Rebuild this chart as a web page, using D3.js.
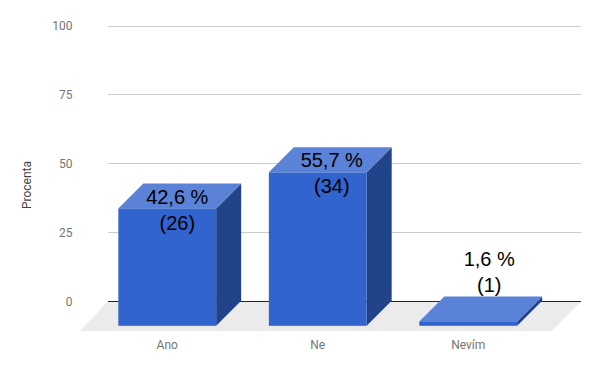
<!DOCTYPE html>
<html><head><meta charset="utf-8">
<script src="https://cdn.jsdelivr.net/npm/d3@7"></script>
<style>html,body{margin:0;padding:0;background:#fff}svg{display:block}</style>
</head><body><div id="c"></div>
<script>
const categories = ["Ano", "Ne", "Nevím"];
const percentValues = [42.6, 55.7, 1.6];
const counts = [26, 34, 1];
const percentLabels = ["42,6 %", "55,7 %", "1,6 %"];
const yTicks = [0, 25, 50, 75, 100];
const yTitle = "Procenta";

const W = 600, H = 371;
const depth = 25;
const labelShift = [10, 14, 21];
const labelBaseline = [204, 167, 266];

const svg = d3.select("#c").append("svg").attr("width", W).attr("height", H);
const y = d3.scaleLinear().domain([0, 100]).range([301.5, 26]);
const x = d3.scaleBand().domain(categories).range([92, 543.5]).paddingInner(0.35).paddingOuter(0.175);

const wallL = 108, wallR = 581, floorFront = 331;
const barBase = y(0) + 24.3;

// floor
svg.append("polygon")
  .attr("points", [[wallL, y(0)], [wallR, y(0)], [552, floorFront], [80, floorFront]].join(" "))
  .attr("fill", "#ebebeb");

// gridlines
svg.append("g").selectAll("line").data(yTicks).join("line")
  .attr("x1", wallL).attr("x2", wallR)
  .attr("y1", d => Math.floor(y(d)) + 0.5).attr("y2", d => Math.floor(y(d)) + 0.5)
  .attr("stroke", d => d === 0 ? "#222" : "#ccc").attr("stroke-width", 1);

// y tick labels
svg.append("g").selectAll("text").data(yTicks).join("text")
  .attr("x", 72.5).attr("y", d => y(d) + 4.2)
  .attr("text-anchor", "end")
  .attr("font-family", "Roboto").attr("font-size", 12).attr("fill", "#757575")
  .text(d => d);

// y title
svg.append("text")
  .attr("transform", "translate(31,185) rotate(-90)")
  .attr("text-anchor", "middle")
  .attr("font-family", "Roboto").attr("font-size", 12).attr("fill", "#444")
  .text(yTitle);

// bars
const bars = svg.append("g").selectAll("g").data(categories).join("g");
const topY = (i) => barBase - (y(0) - y(percentValues[i]));
bars.append("polygon") // right side
  .attr("points", (d, i) => {
    const r = x(d) + x.bandwidth(), t = topY(i);
    return [[r, t], [r + depth, t - depth], [r + depth, barBase - depth], [r, barBase]].join(" ");
  }).attr("fill", "#21438a");
bars.append("polygon") // top
  .attr("points", (d, i) => {
    const l = x(d), r = l + x.bandwidth(), t = topY(i);
    return [[l, t], [r, t], [r + depth, t - depth], [l + depth, t - depth]].join(" ");
  }).attr("fill", "#5a82d6");
bars.append("rect") // front
  .attr("x", d => x(d)).attr("width", x.bandwidth())
  .attr("y", (d, i) => topY(i)).attr("height", (d, i) => barBase - topY(i))
  .attr("fill", "#3164cc");

// category labels
svg.append("g").selectAll("text").data(categories).join("text")
  .attr("x", d => x(d) + x.bandwidth() / 2).attr("y", 348.5)
  .attr("text-anchor", "middle")
  .attr("font-family", "Roboto").attr("font-size", 12).attr("fill", "#757575")
  .text(d => d);

// data labels
const dl = svg.append("g").selectAll("g").data(categories).join("g")
  .attr("transform", (d, i) => `translate(${x(d) + x.bandwidth() / 2 + labelShift[i]},${labelBaseline[i]})`);
dl.append("text").attr("text-anchor", "middle")
  .attr("font-family", "Liberation Sans").attr("font-size", 20).attr("fill", "#000")
  .text((d, i) => percentLabels[i]);
dl.append("text").attr("text-anchor", "middle").attr("y", 26)
  .attr("font-family", "Liberation Sans").attr("font-size", 20).attr("fill", "#000")
  .text((d, i) => `(${counts[i]})`);
</script></body></html>
